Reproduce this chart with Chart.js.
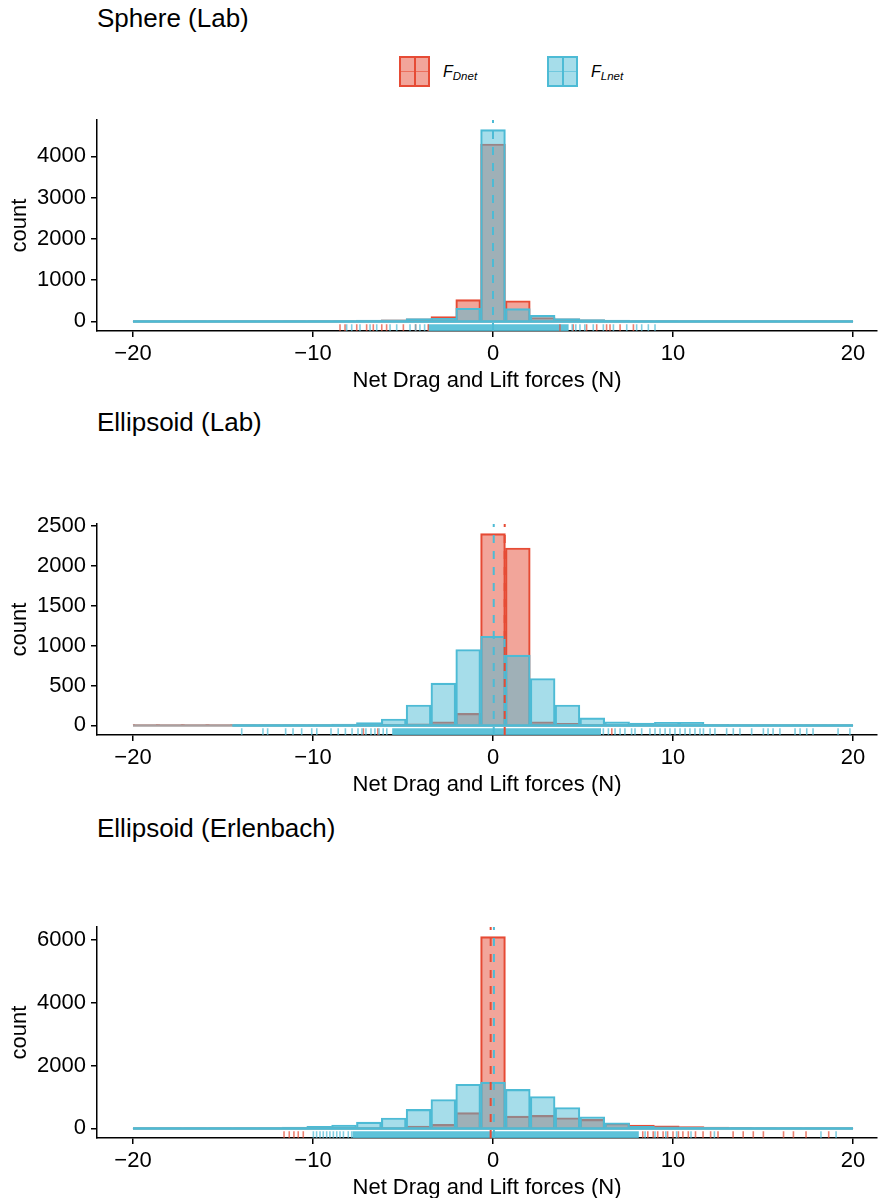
<!DOCTYPE html>
<html>
<head>
<meta charset="utf-8">
<script src="https://cdn.jsdelivr.net/npm/chart.js@4.4.0/dist/chart.umd.min.js"></script>
<style>
  html, body { margin: 0; padding: 0; background: #fff; overflow: hidden; }
  #page { position: relative; width: 878px; height: 1198px; font-family: 'Liberation Sans', Arial, sans-serif; color: #000; }
  .ptitle { position: absolute; left: 97px; font-size: 26px; line-height: 26px; white-space: nowrap; }
  canvas { position: absolute; left: 0; }
  .key { position: absolute; top: 56px; width: 31px; height: 31px; box-sizing: border-box; border: 2px solid; }
  .key .v { position: absolute; left: 12.5px; top: 0; width: 2px; height: 100%; }
  .key .h { position: absolute; left: 0; top: 12.75px; width: 100%; height: 1.5px; }
  .klab { position: absolute; top: 64px; font-size: 16px; line-height: 16px; font-style: italic; white-space: nowrap; }
  .klab span { font-size: 11.5px; position: relative; top: 3px; }
</style>
</head>
<body>
<div id="page">
  <div class="ptitle" style="top:5px">Sphere (Lab)</div>
  <div class="key" style="left:399px;border-color:#E64B35;background:rgba(230,75,53,0.5)">
    <div class="v" style="background:#E64B35"></div><div class="h" style="background:rgba(230,75,53,0.6)"></div>
  </div>
  <div class="klab" style="left:443px">F<span>Dnet</span></div>
  <div class="key" style="left:547px;border-color:#4DBBD5;background:rgba(77,187,213,0.5)">
    <div class="v" style="background:#4DBBD5"></div><div class="h" style="background:rgba(77,187,213,0.6)"></div>
  </div>
  <div class="klab" style="left:591px">F<span>Lnet</span></div>
  <canvas id="sphereChart"></canvas>

  <div class="ptitle" style="top:409px">Ellipsoid (Lab)</div>
  <canvas id="ellLabChart"></canvas>

  <div class="ptitle" style="top:815px">Ellipsoid (Erlenbach)</div>
  <canvas id="erlChart"></canvas>
</div>
<script>
// histogram bins (centres), 29 bins between -20 and 20
const binCenters = [-19.310, -17.931, -16.552, -15.172, -13.793, -12.414, -11.034, -9.655, -8.276, -6.897,
    -5.517, -4.138, -2.759, -1.379, 0, 1.379, 2.759, 4.138, 5.517, 6.897,
    8.276, 9.655, 11.034, 12.414, 13.793, 15.172, 16.552, 17.931, 19.310];
const xTicks = [-20, -10, 0, 10, 20];

// Sphere (Lab)
const sphereDnet = [2, 2, 2, 2, 2, 3, 4, 8, 12, 25, 40, 60, 115, 530, 4300, 500, 95, 60, 40, 25, 10, 4, 2, 2, 1, 1, 1, 1, 1];
const sphereLnet = [2, 2, 2, 2, 2, 2, 3, 8, 15, 30, 40, 70, 75, 320, 4650, 310, 150, 70, 45, 30, 12, 5, 2, 2, 2, 2, 2, 2, 2];
const sphereTicks = [0, 1000, 2000, 3000, 4000];
const sphereMeans = [0.0, 0.0]; // Dnet, Lnet
const sphereRugDnet = [-8.5, -8.22, -7.57, -7.02, -6.65, -6.18, -5.91, -4.98, -4.3, -3.6, 3.72, 4.46, 5.2, 5.76, 6.31, 6.5, 7.06, 7.8];
const sphereRugLnet = [-8.13, -7.85, -7.39, -6.83, -6.46, -5.72, -5.35, -4.61, -4.3, -4.06, -3.8, 4.4, 4.6, 4.83, 5.1, 5.57, 6.13, 6.69, 7.43, 7.98, 8.26, 8.63, 9.0];
const sphereRugCore = [-3.6, 4.2];

// Ellipsoid (Lab)
const ellLabDnet = [10, 10, 10, 10, 3, 2, 3, 5, 8, 10, 15, 20, 45, 150, 2400, 2220, 45, 25, 12, 8, 5, 4, 3, 2, 2, 2, 1, 1, 1];
const ellLabLnet = [null, null, null, null, 3, 4, 6, 8, 16, 35, 80, 255, 530, 950, 1115, 880, 587, 255, 95, 45, 28, 40, 40, 12, 8, 6, 5, 4, 3];
const ellLabTicks = [0, 500, 1000, 1500, 2000, 2500];
const ellLabMeans = [0.65, 0.04];
const ellLabRugDnet = [-7.2, -6.4, 6.6];
const ellLabRugLnet = [-13.96, -12.78, -12.52, -11.52, -11.11, -10.63, -10.07, -9.79, -9.0, -8.6, -8.2, -7.83, -7.5, -7.28,
    -7.06, -6.78, -6.56, -6.33, -6.1, -5.9, 6.13, 6.41, 6.78, 7.06, 7.33, 7.7, 7.89, 8.26, 8.72, 9.0, 9.28, 9.56, 9.83,
    10.11, 10.39, 10.67, 10.94, 11.22, 11.5, 11.69, 12.06, 12.33, 12.98, 13.35, 13.72, 14.37, 15.02, 15.28, 15.56, 15.94,
    16.78, 17.06, 17.43, 17.78, 19.17, 19.83];
const ellLabRugCore = [-5.6, 6.0];

// Ellipsoid (Erlenbach)
const erlDnet = [2, 2, 2, 2, 2, 5, 10, 15, 25, 30, 30, 73, 127, 500, 6100, 390, 415, 340, 285, 160, 105, 85, 62, 40, 25, 12, 8, 5, 2];
const erlLnet = [3, 3, 3, 3, 3, 8, 40, 64, 106, 200, 330, 605, 920, 1405, 1470, 1240, 1015, 665, 370, 180, 65, 50, 40, 25, 15, 8, 5, 3, 2];
const erlTicks = [0, 2000, 4000, 6000];
const erlMeans = [-0.13, 0.05];
const erlRugDnet = [-11.61, -11.32, -11.06, -10.82, -10.54, 8.32, 8.6, 8.9, 9.15, 9.45, 9.7, 10.0, 10.3, 10.55, 10.85,
    11.25, 11.67, 12.09, 12.5, 13.34, 13.9, 14.46, 15.02, 16.14, 16.69, 17.39, 18.65];
const erlRugLnet = [-9.98, -9.8, -9.61, -9.43, -9.24, -9.06, -8.87, -8.68, -8.5, -8.31, -8.04, -7.85, 8.45, 9.0, 9.6,
    10.2, 11.0, 12.3, 18.22, 19.06];
const erlRugCore = [-7.8, 8.1];

const RED = '#E64B35';
const BLUE = '#4DBBD5';
const RED_FILL = 'rgba(230,75,53,0.5)';
const BLUE_FILL = 'rgba(77,187,213,0.5)';

Chart.defaults.font.family = "'Liberation Sans', Arial, sans-serif";
Chart.defaults.color = '#000';

const panels = [
    {id: 'sphereChart', dnet: sphereDnet, lnet: sphereLnet, ticks: sphereTicks, means: sphereMeans,
        rugD: sphereRugDnet, rugL: sphereRugLnet, core: sphereRugCore, top: 120.4, bottom: 331.6},
    {id: 'ellLabChart', dnet: ellLabDnet, lnet: ellLabLnet, ticks: ellLabTicks, means: ellLabMeans,
        rugD: ellLabRugDnet, rugL: ellLabRugLnet, core: ellLabRugCore, top: 524.4, bottom: 735.4},
    {id: 'erlChart', dnet: erlDnet, lnet: erlLnet, ticks: erlTicks, means: erlMeans,
        rugD: erlRugDnet, rugL: erlRugLnet, core: erlRugCore, top: 927.2, bottom: 1138.4}
];

const binW = binCenters[1] - binCenters[0];

function toBars(values) {
    return binCenters.map((x, i) => ({x: x, y: values[i]}));
}

// zero-count outline along the baseline
function baseline(values) {
    let first = values.findIndex(v => v !== null);
    let last = values.length - 1;
    while (values[last] === null) last--;
    return [{x: binCenters[first] - binW / 2, y: 0}, {x: binCenters[last] + binW / 2, y: 0}];
}

function drawPanel(p) {
    const canvas = document.getElementById(p.id);
    const padTop = 10, xAxisH = 64;
    const canvasTop = p.top - padTop;
    const h = Math.round(p.bottom + xAxisH - canvasTop);
    canvas.width = 878;
    canvas.height = h;
    canvas.style.top = canvasTop + 'px';
    canvas.style.width = '878px';
    canvas.style.height = h + 'px';

    const all = p.dnet.concat(p.lnet).filter(v => v !== null);
    const maxCount = Math.max(...all);
    const yMax = maxCount * 1.05;
    const yMin = -maxCount * 0.05;
    const rugY = yMin + (yMax - yMin) * 0.016;

    const rugStyle = (color) => ({
        type: 'line', showLine: false, pointStyle: 'line', rotation: 90,
        pointRadius: 3.4, pointBorderWidth: 1.6, pointBorderColor: color, borderColor: color
    });

    return new Chart(canvas, {
        type: 'bar',
        data: {
            datasets: [
                {type: 'line', data: [{x: p.core[0], y: rugY}, {x: p.core[1], y: rugY}], borderColor: 'rgba(77,187,213,0.9)',
                    borderWidth: 6.8, borderCapStyle: 'butt', pointRadius: 0, order: 9},
                Object.assign({data: p.rugD.map(x => ({x: x, y: rugY})), order: 8}, rugStyle('rgba(230,75,53,0.7)')),
                Object.assign({data: p.rugL.map(x => ({x: x, y: rugY})), order: 7}, rugStyle('rgba(77,187,213,0.7)')),
                {label: 'FDnet', data: toBars(p.dnet), backgroundColor: RED_FILL, borderColor: RED, borderWidth: 1.5, order: 6},
                {label: 'FLnet', data: toBars(p.lnet), backgroundColor: BLUE_FILL, borderColor: BLUE, borderWidth: 1.5, order: 5},
                {type: 'line', data: baseline(p.dnet), borderColor: 'rgba(160,150,150,0.9)', borderWidth: 2.5, pointRadius: 0, order: 4},
                {type: 'line', data: baseline(p.lnet), borderColor: BLUE, borderWidth: 2.5, pointRadius: 0, order: 3},
                {type: 'line', data: [{x: p.means[0], y: yMin}, {x: p.means[0], y: yMax}], borderColor: RED,
                    borderWidth: 2, borderDash: [8, 8], pointRadius: 0, order: 2},
                {type: 'line', data: [{x: p.means[1], y: yMin}, {x: p.means[1], y: yMax}], borderColor: BLUE,
                    borderWidth: 2, borderDash: [8, 8], pointRadius: 0, order: 1}
            ]
        },
        options: {
            responsive: false,
            animation: false,
            layout: {autoPadding: false, padding: {top: padTop, right: 1, left: 0, bottom: 0}},
            datasets: {bar: {grouped: false, barPercentage: 1, categoryPercentage: 1, borderSkipped: 'start'}},
            plugins: {legend: {display: false}, tooltip: {enabled: false}},
            scales: {
                x: {
                    type: 'linear', min: -22, max: 21.333, offset: false,
                    afterBuildTicks: s => { s.ticks = xTicks.map(v => ({value: v})); },
                    afterFit: s => { s.height = xAxisH; s.paddingLeft = 0; s.paddingRight = 0; },
                    ticks: {font: {size: 22}, padding: 4, maxRotation: 0, callback: v => String(v).replace('-', '\u2212')},
                    grid: {drawOnChartArea: false, drawTicks: true, tickLength: 6, color: '#000', lineWidth: 1.5, offset: false},
                    border: {display: true, color: '#000', width: 1.5},
                    title: {display: true, text: 'Net Drag and Lift forces (N)', font: {size: 22}, padding: {top: 0, bottom: 1}}
                },
                y: {
                    min: yMin, max: yMax,
                    afterBuildTicks: s => { s.ticks = p.ticks.map(v => ({value: v})); },
                    afterFit: s => { s.width = 97; s.paddingTop = 0; s.paddingBottom = 0; },
                    ticks: {font: {size: 22}, padding: 5, callback: v => String(v)},
                    grid: {drawOnChartArea: false, drawTicks: true, tickLength: 6, color: '#000', lineWidth: 1.5},
                    border: {display: true, color: '#000', width: 1.5},
                    title: {display: true, text: 'count', font: {size: 22}, padding: {top: 7, bottom: 0}}
                }
            }
        }
    });
}

panels.forEach(drawPanel);
</script>
</body>
</html>
